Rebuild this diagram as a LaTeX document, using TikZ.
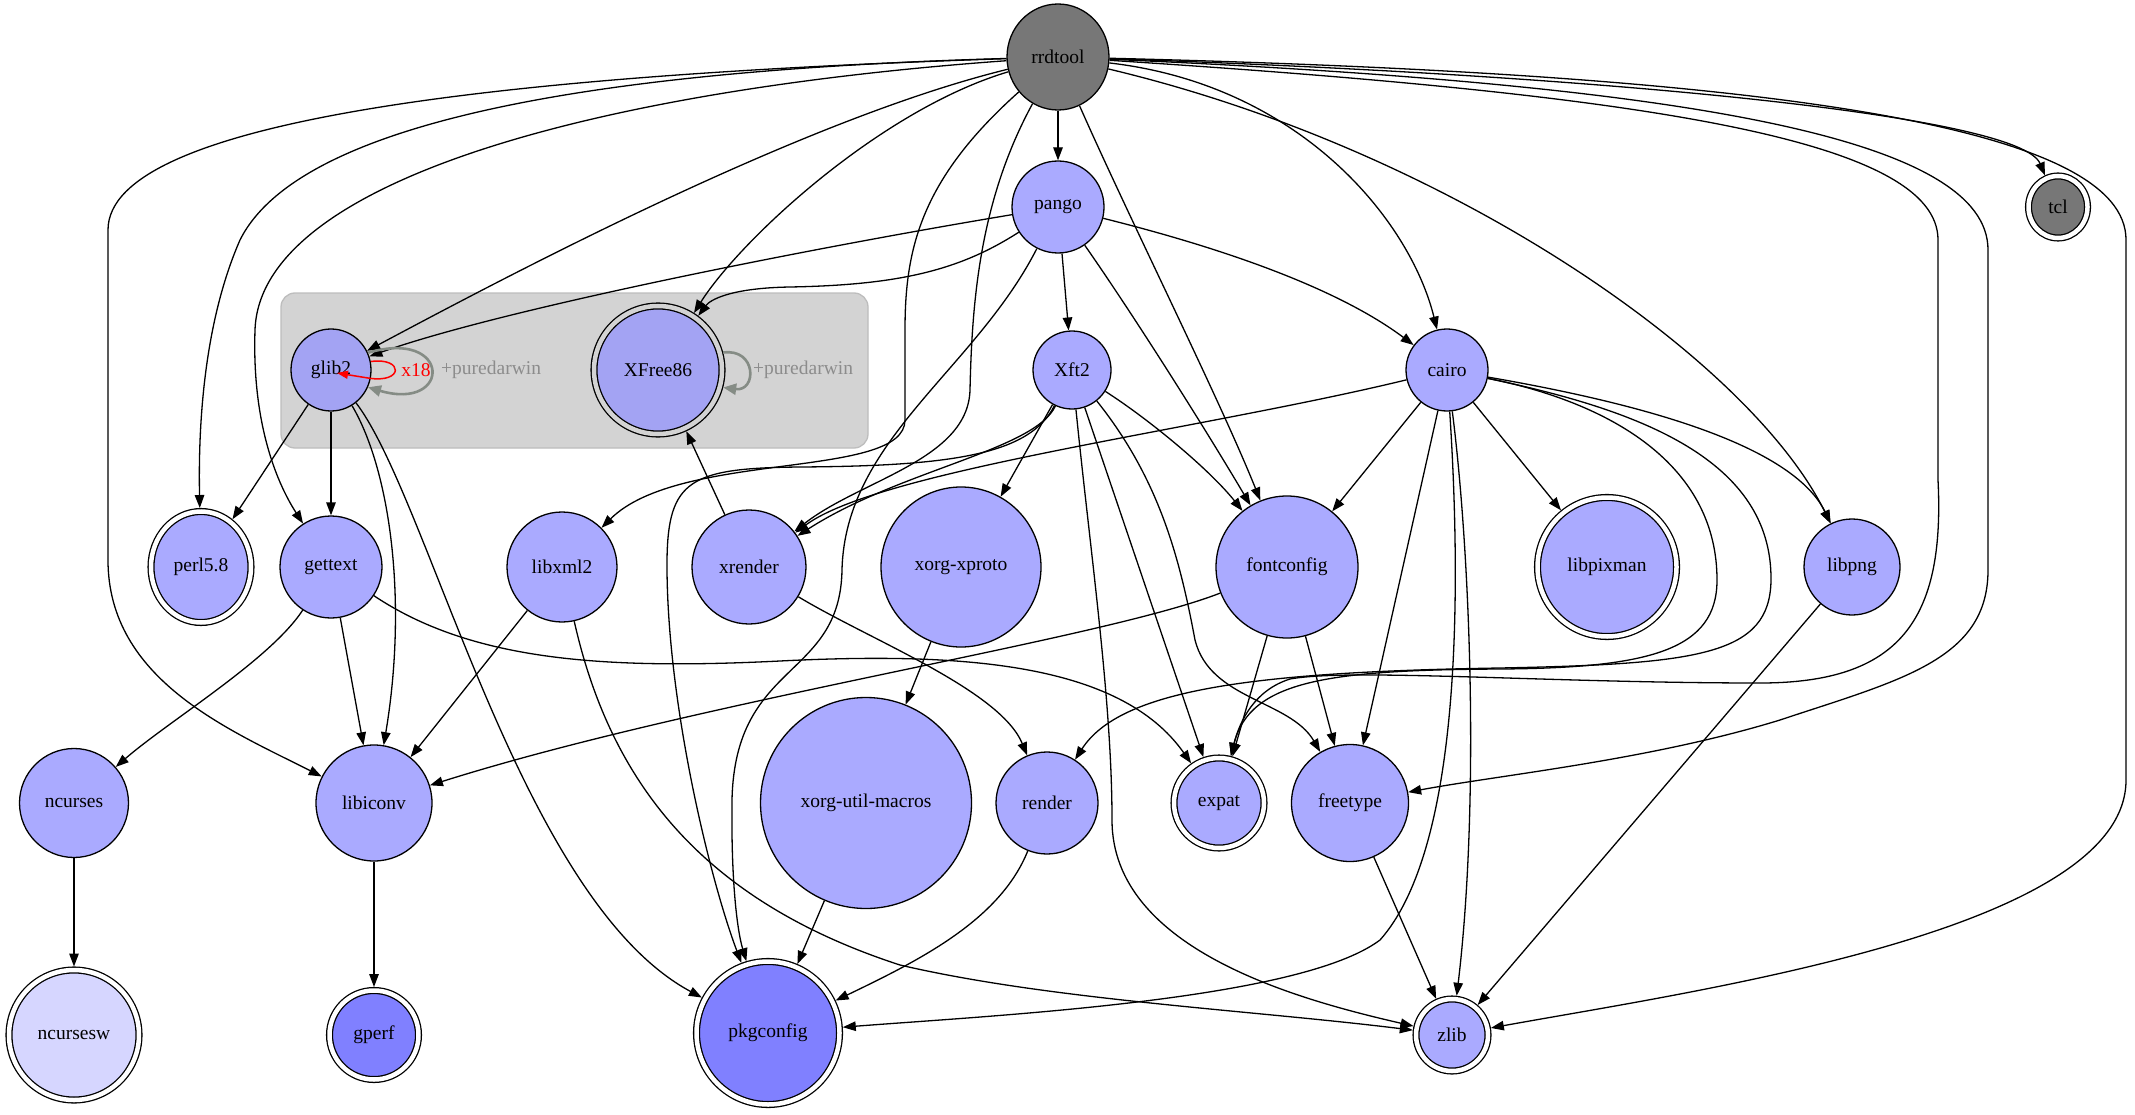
\documentclass[tikz,border=0pt]{standalone}
\usepackage{fontspec}
\setmainfont{Liberation Serif}
\usetikzlibrary{shapes.geometric,arrows.meta}
\definecolor{pkgblue}{HTML}{AAAAFF}
\definecolor{cellblue}{HTML}{A3A3F3}
\definecolor{deepblue}{HTML}{8080FF}
\definecolor{paleblue}{HTML}{D6D6FF}
\definecolor{rootgray}{HTML}{777777}
\definecolor{cellgray}{HTML}{D3D3D3}
\definecolor{cellrim}{HTML}{BDBDBD}
\definecolor{variantgray}{HTML}{858C85}
\definecolor{labelgray}{HTML}{8C8C8C}

\begin{document}
\begin{tikzpicture}[x=1pt,y=-1pt,
		pkg/.style={ellipse,draw,line width=1.3pt,fill=pkgblue,inner sep=0pt,font=\fontsize{19.5}{22}\selectfont},
		dbl/.style={double=white,double distance=4.5pt,outer sep=3.5pt},
		dep/.style={line width=1.3pt,-{Triangle[length=13pt,width=9.5pt]}},
		variant/.style={line width=2.6pt,variantgray,-{Triangle[length=13pt,width=11pt]}},
		note/.style={inner sep=0pt,font=\fontsize{19.5}{22}\selectfont}]
			\fill[white] (0,0) rectangle (2135,1115);
			\useasboundingbox (0,0) rectangle (2135,1115);
			\draw[cellrim, fill=cellgray, line width=1.3pt, rounded corners=14pt] (281,293) rectangle (868,448);

			\node[pkg,fill=rootgray,minimum width=102pt,minimum height=106pt] (rrdtool) at (1058,57) {rrdtool};
			\node[pkg,dbl,fill=rootgray,minimum width=59pt,minimum height=62pt] (tcl) at (2058,207) {tcl};
			\node[pkg,minimum size=92pt] (pango) at (1058,207) {pango};
			\node[pkg,fill=cellblue,minimum width=80pt,minimum height=82pt] (glib2) at (331,370) {glib2};
			\node[pkg,dbl,double=cellgray,fill=cellblue,minimum size=128pt] (XFree86) at (658,370) {XFree86};
			\node[pkg,minimum size=78pt] (Xft2) at (1072,370) {Xft2};
			\node[pkg,minimum size=82pt] (cairo) at (1447,370) {cairo};
			\node[pkg,dbl,minimum width=100pt,minimum height=111pt] (perl) at (201,567) {perl5.8};
			\node[pkg,minimum size=102pt] (gettext) at (331,567) {gettext};
			\node[pkg,minimum size=110pt] (libxml2) at (562,567) {libxml2};
			\node[pkg,minimum size=114pt] (xrender) at (749,567) {xrender};
			\node[pkg,minimum size=160pt] (xproto) at (961,567) {xorg-xproto};
			\node[pkg,minimum size=142pt] (fontconfig) at (1287,567) {fontconfig};
			\node[pkg,dbl,minimum size=139pt] (libpixman) at (1607,567) {libpixman};
			\node[pkg,minimum size=96pt] (libpng) at (1852,567) {libpng};
			\node[pkg,minimum size=109pt] (ncurses) at (74,803) {ncurses};
			\node[pkg,minimum size=116pt] (libiconv) at (374,803) {libiconv};
			\node[pkg,minimum size=211pt] (macros) at (866,803) {xorg-util-macros};
			\node[pkg,minimum size=102pt] (render) at (1047,803) {render};
			\node[pkg,dbl,minimum size=90pt] (expat) at (1219,803) {expat};
			\node[pkg,minimum size=117pt] (freetype) at (1350,803) {freetype};
			\node[pkg,dbl,fill=paleblue,minimum size=130pt] (ncursesw) at (74,1035) {ncursesw};
			\node[pkg,dbl,fill=deepblue,minimum size=89pt] (gperf) at (374,1035) {gperf};
			\node[pkg,dbl,fill=deepblue,minimum size=143pt] (pkgconfig) at (768,1033) {pkgconfig};
			\node[pkg,dbl,minimum size=72pt] (zlib) at (1452,1035) {zlib};

			\draw[dep] (rrdtool) -- (pango);
			\draw[dep] (rrdtool) .. controls (1600,75) and (2020,115) .. (tcl);
			\draw[dep] (rrdtool) .. controls (1650,95) and (1938,140) .. (1938,240) -- (1938,480) .. controls (1945,620) and (1900,683) .. (1760,683) .. controls (1550,683) and (1350,668) .. (1290,679) .. controls (1255,690) and (1240,720) .. (expat);
			\draw[dep] (rrdtool) .. controls (1700,85) and (1988,140) .. (1988,250) -- (1988,570) .. controls (1988,660) and (1900,680) .. (1780,720) .. controls (1650,760) and (1500,775) .. (freetype);
			\draw[dep] (rrdtool) .. controls (1800,75) and (2126,130) .. (2126,240) -- (2126,780) .. controls (2126,930) and (1700,990) .. (zlib);
			\draw[dep] (rrdtool) .. controls (1450,150) and (1750,360) .. (libpng);
			\draw[dep] (rrdtool) .. controls (1300,85) and (1410,220) .. (cairo);
			\draw[dep] (rrdtool) .. controls (1130,220) and (1220,400) .. (fontconfig);
			\draw[dep] (rrdtool) .. controls (880,110) and (740,240) .. (XFree86);
			\draw[dep] (rrdtool) .. controls (800,120) and (500,280) .. (glib2);
			\draw[dep] (rrdtool) .. controls (600,90) and (260,180) .. (255,330) .. controls (252,420) and (275,480) .. (gettext);
			\draw[dep] (rrdtool) .. controls (600,70) and (300,120) .. (240,240) .. controls (205,320) and (198,420) .. (perl);
			\draw[dep] (rrdtool) .. controls (500,75) and (108,120) .. (108,230) -- (108,560) .. controls (108,680) and (230,730) .. (libiconv);
			\draw[dep] (rrdtool) .. controls (920,180) and (905,250) .. (905,330) -- (905,420) .. controls (905,480) and (680,450) .. (libxml2);
			\draw[dep] (rrdtool) .. controls (980,200) and (972,300) .. (970,390) .. controls (968,460) and (860,480) .. (xrender);

			\draw[dep] (pango) -- (Xft2);
			\draw[dep] (pango) .. controls (1230,250) and (1340,290) .. (cairo);
			\draw[dep] (pango) .. controls (800,250) and (500,310) .. (glib2);
			\draw[dep] (pango) .. controls (960,270) and (900,285) .. (790,287) .. controls (730,288) and (710,300) .. (XFree86);
			\draw[dep] (pango) .. controls (1130,310) and (1200,420) .. (fontconfig);
			\draw[dep] (pango) .. controls (975,370) and (845,440) .. (842,570) .. controls (840,680) and (735,660) .. (732,800) .. controls (731,880) and (737,930) .. (pkgconfig);

			\draw[dep] (Xft2) -- (xproto);
			\draw[dep] (Xft2) .. controls (1035,450) and (900,470) .. (xrender);
			\draw[dep] (Xft2) .. controls (1030,455) and (950,466) .. (800,467) .. controls (690,468) and (668,480) .. (667,560) .. controls (666,700) and (710,880) .. (pkgconfig);
			\draw[dep] (Xft2) .. controls (1090,550) and (1112,700) .. (1112,820) .. controls (1112,950) and (1300,1000) .. (zlib);
			\draw[dep] (Xft2) -- (expat);
			\draw[dep] (Xft2) .. controls (1160,480) and (1180,560) .. (1195,640) .. controls (1210,700) and (1290,700) .. (freetype);
			\draw[dep] (Xft2) .. controls (1150,420) and (1210,470) .. (fontconfig);

			\draw[dep] (cairo) .. controls (1200,430) and (880,470) .. (xrender);
			\draw[dep] (cairo) -- (fontconfig);
			\draw[dep] (cairo) -- (freetype);
			\draw[dep] (cairo) -- (libpixman);
			\draw[dep] (cairo) .. controls (1470,550) and (1480,800) .. (zlib);
			\draw[dep] (cairo) .. controls (1462,600) and (1460,850) .. (1380,940) .. controls (1300,1000) and (1000,1015) .. (pkgconfig);
			\draw[dep] (cairo) .. controls (1620,400) and (1790,440) .. (libpng);
			\draw[dep] (cairo) .. controls (1620,405) and (1717,470) .. (1717,580) .. controls (1717,650) and (1650,668) .. (1500,669) .. controls (1330,670) and (1250,680) .. (expat);
			\draw[dep] (cairo) .. controls (1640,410) and (1772,460) .. (1771,580) .. controls (1770,655) and (1700,664) .. (1500,668) .. controls (1250,672) and (1120,690) .. (render);

			\draw[dep] (glib2) -- (perl);
			\draw[dep] (glib2) -- (gettext);
			\draw[dep] (glib2) .. controls (390,470) and (408,600) .. (libiconv);
			\draw[dep] (glib2) .. controls (430,500) and (520,900) .. (pkgconfig);
			\draw[dep] (gettext) .. controls (270,660) and (170,720) .. (ncurses);
			\draw[dep] (gettext) -- (libiconv);
			\draw[dep] (gettext) .. controls (470,660) and (600,670) .. (780,661) .. controls (960,652) and (1120,662) .. (expat);
			\draw[dep] (libxml2) -- (libiconv);
			\draw[dep] (libxml2) .. controls (610,780) and (700,900) .. (900,965) .. controls (1050,1000) and (1250,1010) .. (zlib);
			\draw[dep] (xrender) -- (XFree86);
			\draw[dep] (xrender) .. controls (870,640) and (1000,690) .. (render);
			\draw[dep] (xproto) -- (macros);
			\draw[dep] (macros) -- (pkgconfig);
			\draw[dep] (render) .. controls (1000,920) and (920,960) .. (pkgconfig);
			\draw[dep] (fontconfig) -- (expat);
			\draw[dep] (fontconfig) -- (freetype);
			\draw[dep] (fontconfig) .. controls (1100,640) and (700,700) .. (libiconv);
			\draw[dep] (freetype) -- (zlib);
			\draw[dep] (libpng) -- (zlib);
			\draw[dep] (ncurses) -- (ncursesw);
			\draw[dep] (libiconv) -- (gperf);

			\draw[variant] (glib2.25) .. controls (452,328) and (452,412) .. (glib2.-25);
			\node[note, text=labelgray, anchor=west] (glib2variant) at (441,370) {+puredarwin};
			\draw[line width=1.5pt, red, -{Triangle[length=11pt,width=8pt]}] (glib2.12) .. controls (404,357) and (404,384) .. (368,378) -- ([xshift=6pt,yshift=-3pt]glib2.center);
			\node[note, text=red] (glib2count) at (416,370) {x18};
			\draw[variant] (XFree86.15) .. controls (757,348) and (757,392) .. (XFree86.-15);
			\node[note, text=labelgray, anchor=west] (xfreevariant) at (753,370) {+puredarwin};
		\end{tikzpicture}
\end{document}
